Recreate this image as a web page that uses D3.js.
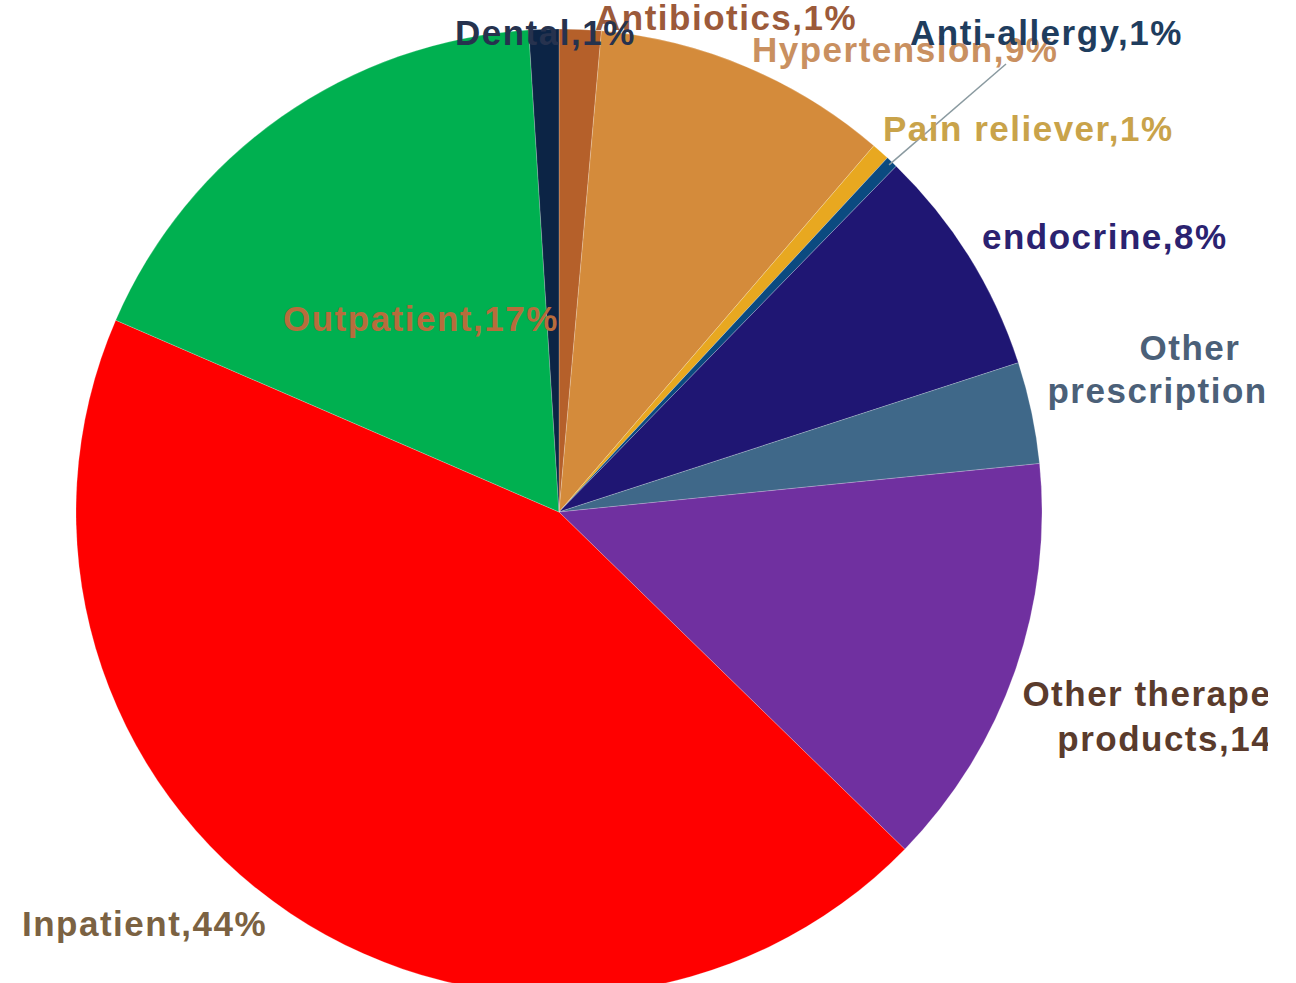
<!DOCTYPE html>
<html>
<head>
<meta charset="utf-8">
<script src="https://cdn.jsdelivr.net/npm/d3@7"></script>
<style>
  html, body { margin: 0; padding: 0; background: #fff; }
  svg { display: block; }
</style>
</head>
<body>
<svg id="chart" width="1296" height="983"></svg>
<script>
// ---- data ----
const categories = ["Antibiotics", "Hypertension", "Pain reliever", "Anti-allergy", "endocrine",
  "Other prescription", "Other therapeutic products", "Inpatient", "Outpatient", "Dental"];
const values = [1.4, 9.9, 0.6, 0.4, 7.7, 3.4, 13.9, 44.2, 17.5, 1.0];
const pctLabels = ["1%", "9%", "1%", "1%", "8%", "4%", "14%", "44%", "17%", "1%"];

// ---- styles / layout ----
const sliceColors = ["#b5602a", "#d48b3b", "#e8a820", "#0b4a80", "#1f1673",
  "#3f6889", "#7030a0", "#ff0000", "#00b050", "#0c2445"];
const labelColors = ["#9c5a3a", "#c99060", "#c9a34a", "#1f3d5e", "#2b2270",
  "#4b6078", "#5a3b2c", "#7b6242", "#b86c3c", "#26324e"];
// label lines and anchor positions (layout only)
const labelLayout = [
  {x: 595, y: 30, anchor: "start", lines: ["Antibiotics,"]},
  {x: 752, y: 62, anchor: "start", lines: ["Hypertension,"]},
  {x: 883, y: 141, anchor: "start", lines: ["Pain reliever,"]},
  {x: 910, y: 45, anchor: "start", lines: ["Anti-allergy,"]},
  {x: 982, y: 249, anchor: "start", lines: ["endocrine,"]},
  {x: 1190, y: 360, anchor: "middle", lines: ["Other", "prescription,"], lh: 43},
  {x: 1181, y: 706, anchor: "middle", lines: ["Other therapeutic", "products,"], lh: 45},
  {x: 22, y: 936, anchor: "start", lines: ["Inpatient,"]},
  {x: 283, y: 331, anchor: "start", lines: ["Outpatient,"]},
  {x: 455, y: 45, anchor: "start", lines: ["Dental,"]}
];

const cx = 559, cy = 512, R = 483;
const svg = d3.select("#chart");

svg.append("defs").append("clipPath").attr("id", "crop")
  .append("rect").attr("x", 0).attr("y", 0).attr("width", 1268).attr("height", 983);

const root = svg.append("g").attr("clip-path", "url(#crop)");

const data = categories.map((c, i) => ({name: c, value: values[i], pct: pctLabels[i], i}));
const pie = d3.pie().value(d => d.value).sort(null).startAngle(0).endAngle(2 * Math.PI);
const arc = d3.arc().innerRadius(0).outerRadius(R);

const g = root.append("g").attr("transform", `translate(${cx},${cy})`);
const arcs = pie(data);
g.selectAll("path").data(arcs).join("path")
  .attr("d", arc)
  .attr("fill", d => sliceColors[d.data.i])
  .attr("stroke", "rgba(255,255,255,0.35)")
  .attr("stroke-width", 0.6);

// leader line for Anti-allergy
const aa = arcs[3];
const midA = (aa.startAngle + aa.endAngle) / 2;
const p0 = [cx + Math.sin(midA) * (R - 4), cy - Math.cos(midA) * (R - 4)];
root.append("line")
  .attr("x1", p0[0]).attr("y1", p0[1])
  .attr("x2", 1006).attr("y2", 64)
  .attr("stroke", "#8a9aa0").attr("stroke-width", 1.5);

// labels
const labelsG = root.append("g")
  .attr("font-family", "'Liberation Sans', Arial, sans-serif")
  .attr("font-weight", "bold")
  .attr("font-size", 35)
  .attr("letter-spacing", 1.5);

data.forEach((d, i) => {
  const L = labelLayout[i];
  const t = labelsG.append("text")
    .attr("x", L.x).attr("y", L.y)
    .attr("text-anchor", L.anchor)
    .attr("fill", labelColors[i]);
  L.lines.forEach((ln, k) => {
    const last = k === L.lines.length - 1;
    t.append("tspan")
      .attr("x", L.x)
      .attr("dy", k === 0 ? 0 : (L.lh || 43))
      .text(last ? ln + d.pct : ln);
  });
});
</script>
</body>
</html>
